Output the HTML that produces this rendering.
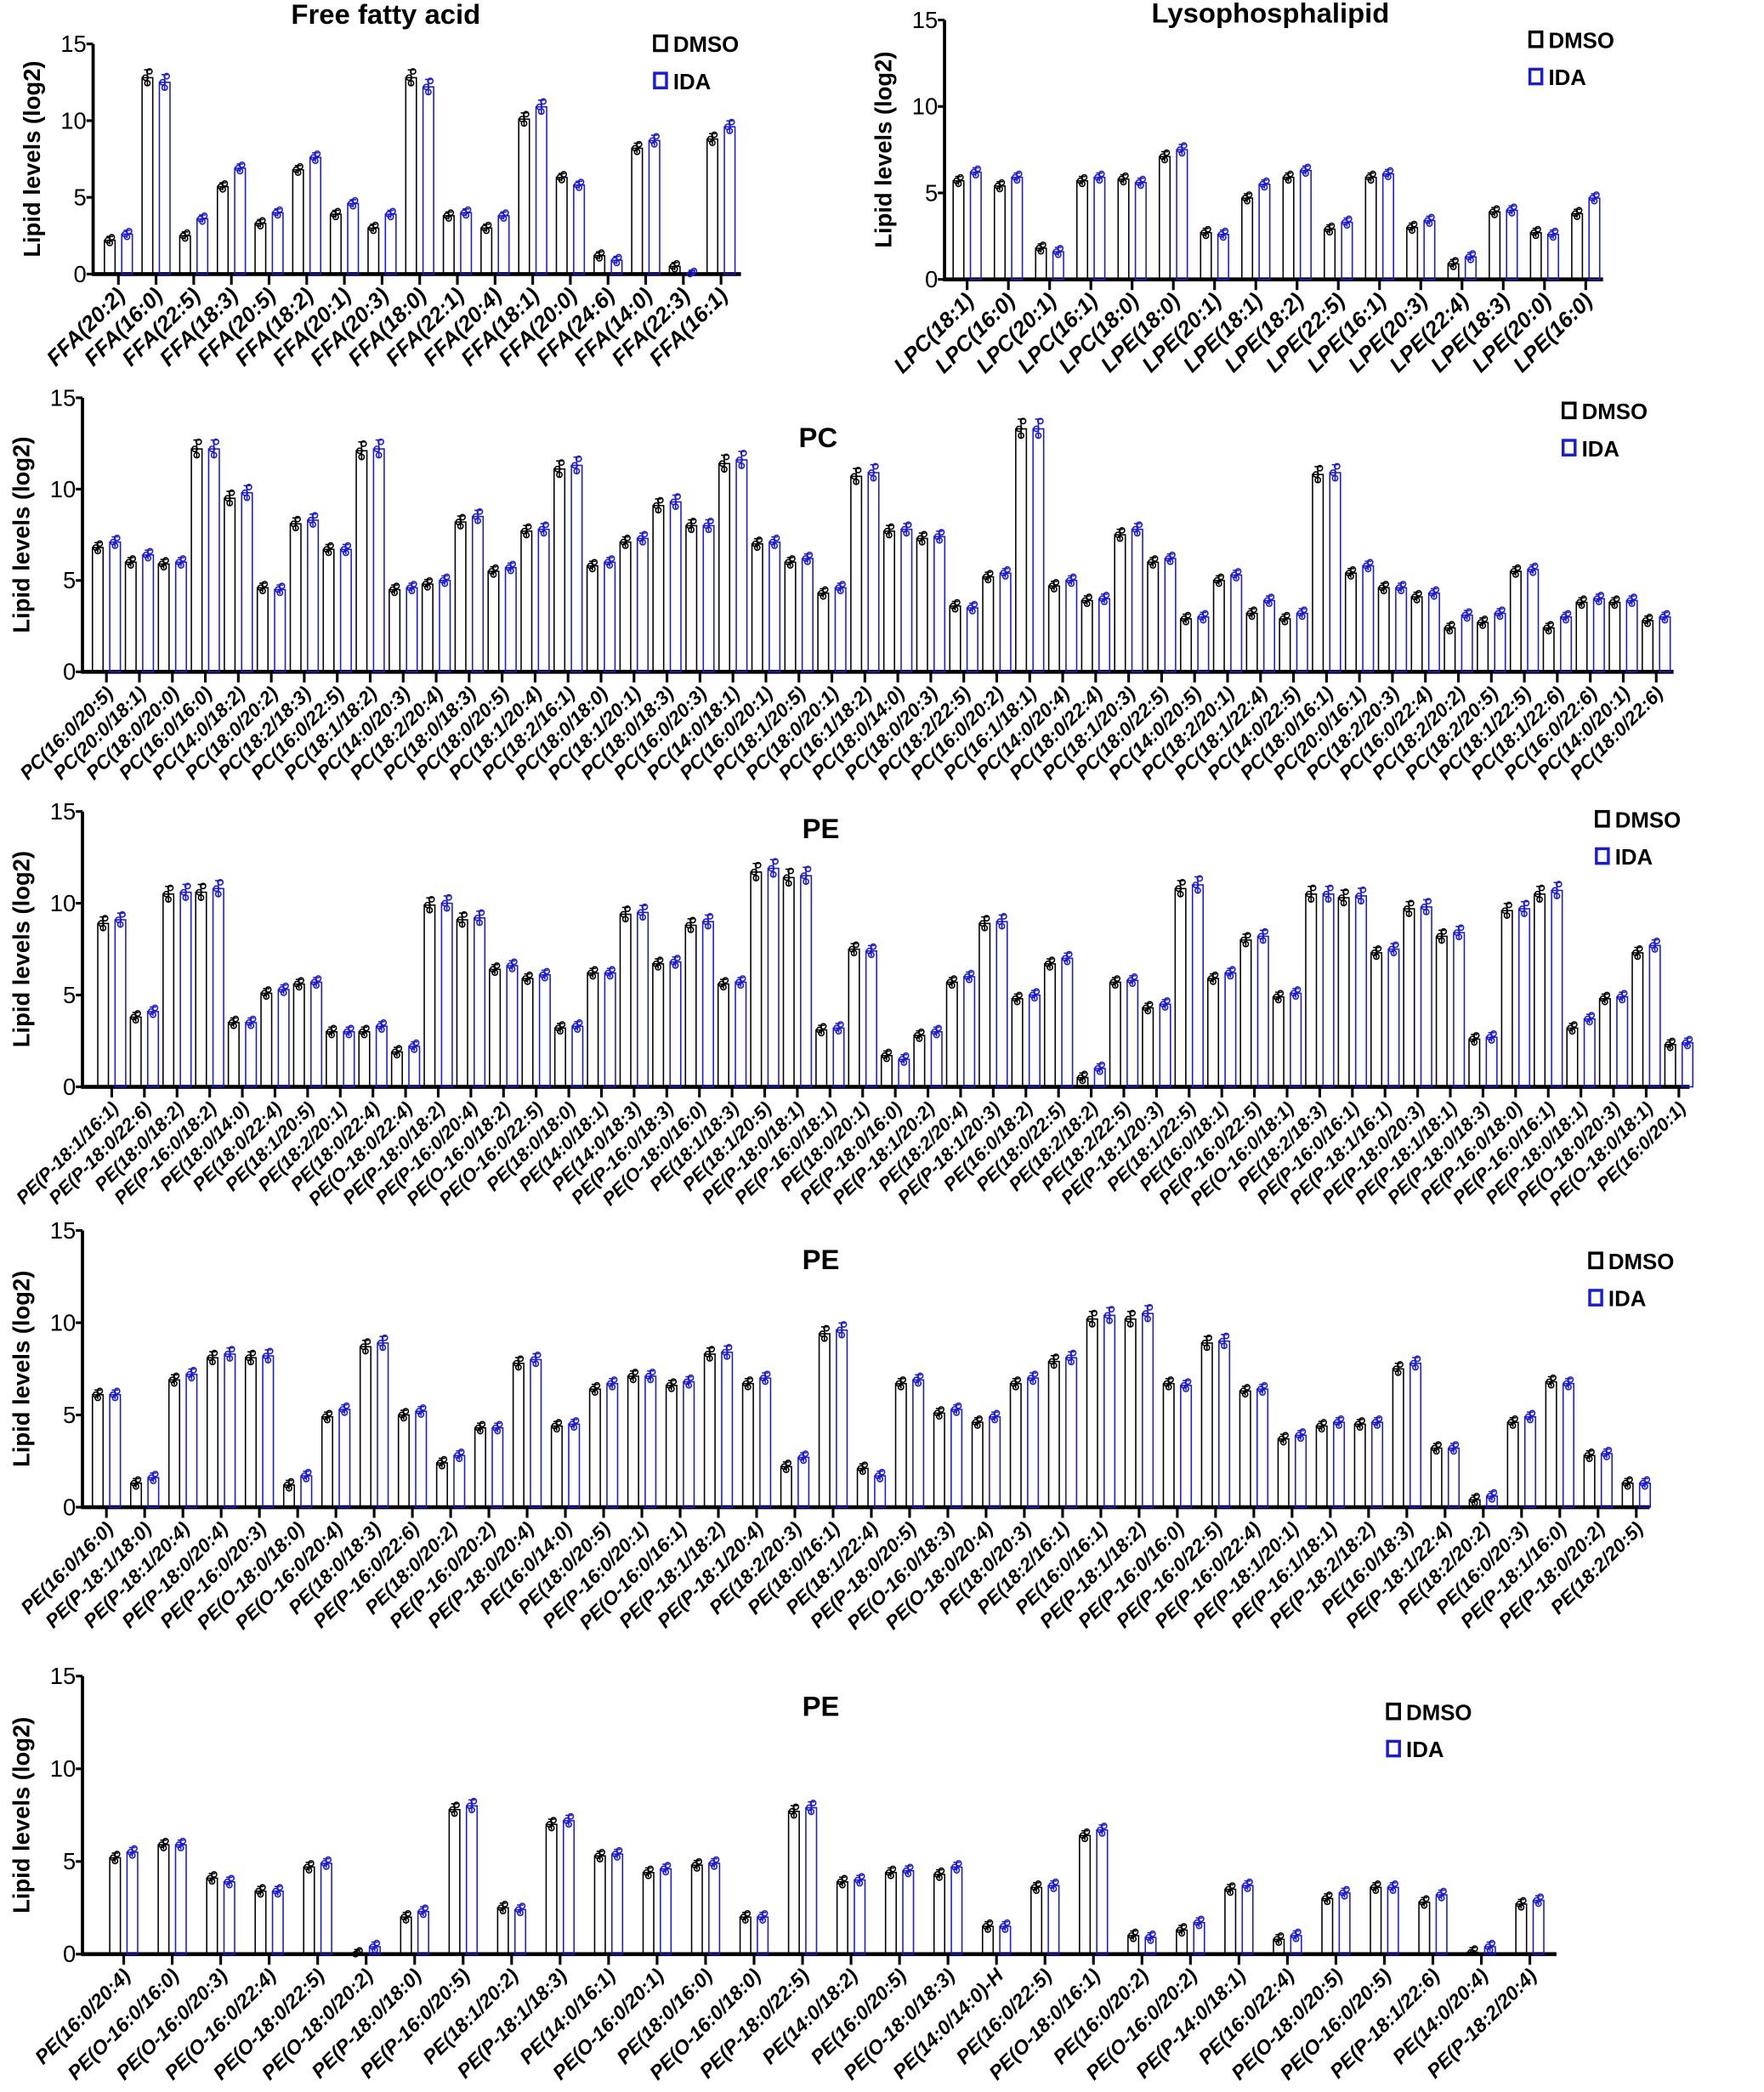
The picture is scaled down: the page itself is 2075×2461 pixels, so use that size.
<!DOCTYPE html>
<html><head><meta charset="utf-8"><style>
html,body{margin:0;padding:0;background:#fff}
svg{display:block}
text{font-family:"Liberation Sans",Arial,sans-serif}
</style></head><body>
<svg id="s" xmlns="http://www.w3.org/2000/svg" width="2075" height="2461" viewBox="0 0 1326 1572.6"></svg>
<script>
const S=document.getElementById('s');let h='';
function panel(o){
 const {ax,y15,y0,xend,x1,x2,title,tx,ty,lx,ly,names,vals}=o;
 const sc=(y0-y15)/15, Y=v=>y0-v*sc;
 h+=`<text x="${tx}" y="${ty}" font-size="${o.tfs||21}" font-weight="bold" text-anchor="middle">${title}</text>`;
 const yc=(y15+y0)/2;
 h+=`<text transform="translate(${ax-40},${yc}) rotate(-90)" font-size="17.5" font-weight="bold" text-anchor="middle">Lipid levels (log2)</text>`;
 h+=`<line x1="${ax}" y1="${y15}" x2="${ax}" y2="${y0+1}" stroke="#000" stroke-width="2.4"/>`;
 h+=`<line x1="${ax-1}" y1="${y0}" x2="${xend}" y2="${y0}" stroke="#000" stroke-width="3"/>`;
 [0,5,10,15].forEach(v=>{const y=Y(v);h+=`<line x1="${ax-5}" y1="${y}" x2="${ax}" y2="${y}" stroke="#000" stroke-width="2"/><text x="${ax-5}" y="${y+6}" font-size="17.5" text-anchor="end">${v}</text>`;});
 const n=vals.length, sp=(x2-x1)/(n-1);
 vals.forEach((p,i)=>{const c=x1+i*sp;
  h+=`<line x1="${c}" y1="${y0}" x2="${c}" y2="${y0+8}" stroke="#000" stroke-width="2"/>`;
  [[p[0],'#000',c-6.5],[p[1],'#1a1adc',c+6.5]].forEach(([v,col,bx])=>{
   const y=Y(v);h+=`<rect x="${bx-4}" y="${y}" width="8" height="${y0-y}" fill="none" stroke="${col}" stroke-width="1"/>`;
   const e=Math.max(0.25,v*0.04)*sc;
   h+=`<line x1="${bx}" y1="${y-e}" x2="${bx}" y2="${Math.min(y0,y+e)}" stroke="${col}" stroke-width="1"/><line x1="${bx-2.5}" y1="${y-e}" x2="${bx+2.5}" y2="${y-e}" stroke="${col}" stroke-width="1"/>`;
   h+=`<circle cx="${bx-1.5}" cy="${y}" r="2" fill="none" stroke="${col}" stroke-width="1"/><circle cx="${bx+1.5}" cy="${y-e*0.8}" r="2" fill="none" stroke="${col}" stroke-width="1"/><circle cx="${bx}" cy="${Math.min(y0-1,y+e*0.7)}" r="2" fill="none" stroke="${col}" stroke-width="1"/>`;
  });
  if(names[i])h+=`<text transform="translate(${c+6},${y0+17}) rotate(-45)" font-size="${o.fs||14.5}" font-weight="bold" font-style="italic" text-anchor="end">${names[i]}</text>`;
 });
 h+=`<rect x="${lx}" y="${ly-7}" width="9" height="11" fill="none" stroke="#000" stroke-width="2.2"/><text x="${lx+14}" y="${ly+5}" font-size="16.5" font-weight="bold">DMSO</text>`;
 h+=`<rect x="${lx}" y="${ly+21}" width="9" height="11" fill="none" stroke="#1a1adc" stroke-width="2.2"/><text x="${lx+14}" y="${ly+33}" font-size="16.5" font-weight="bold">IDA</text>`;
}
const P=s=>s.split(',').map(x=>x.split('/').map(Number));
const L=s=>s.split('|');
panel({ax:70,y15:33,y0:206,xend:557,x1:89,x2:542,title:'Free fatty acid',tx:290,ty:18,lx:492,ly:34,fs:16.5,
names:L('FFA(20:2)|FFA(16:0)|FFA(22:5)|FFA(18:3)|FFA(20:5)|FFA(18:2)|FFA(20:1)|FFA(20:3)|FFA(18:0)|FFA(22:1)|FFA(20:4)|FFA(18:1)|FFA(20:0)|FFA(24:6)|FFA(14:0)|FFA(22:3)|FFA(16:1)'),
vals:P('2.2/2.6,12.8/12.5,2.5/3.6,5.7/6.9,3.3/4.0,6.8/7.6,3.9/4.6,3.0/3.9,12.8/12.2,3.8/4.0,3.0/3.8,10.1/10.9,6.3/5.8,1.2/0.9,8.2/8.7,0.5/0,8.8/9.6')});
panel({ax:710,y15:15,y0:210,xend:1205,x1:727,x2:1192,title:'Lysophosphalipid',tx:955,ty:17,lx:1150,ly:31,fs:16.5,
names:L('LPC(18:1)|LPC(16:0)|LPC(20:1)|LPC(16:1)|LPC(18:0)|LPE(18:0)|LPE(20:1)|LPE(18:1)|LPE(18:2)|LPE(22:5)|LPE(16:1)|LPE(20:3)|LPE(22:4)|LPE(18:3)|LPE(20:0)|LPE(16:0)'),
vals:P('5.7/6.2,5.4/5.9,1.8/1.6,5.7/5.9,5.8/5.6,7.1/7.5,2.7/2.6,4.7/5.5,5.9/6.3,2.9/3.3,5.9/6.1,3.0/3.4,0.9/1.3,3.9/4.0,2.7/2.6,3.8/4.7')});
panel({ax:62,y15:299,y0:505,xend:1258,x1:80,x2:1245,title:'PC',tx:615,ty:336,lx:1175,ly:310,
names:L('PC(16:0/20:5)|PC(20:0/18:1)|PC(18:0/20:0)|PC(16:0/16:0)|PC(14:0/18:2)|PC(18:0/20:2)|PC(18:2/18:3)|PC(16:0/22:5)|PC(18:1/18:2)|PC(14:0/20:3)|PC(18:2/20:4)|PC(18:0/18:3)|PC(18:0/20:5)|PC(18:1/20:4)|PC(18:2/16:1)|PC(18:0/18:0)|PC(18:1/20:1)|PC(18:0/18:3)|PC(16:0/20:3)|PC(14:0/18:1)|PC(16:0/20:1)|PC(18:1/20:5)|PC(18:0/20:1)|PC(16:1/18:2)|PC(18:0/14:0)|PC(18:0/20:3)|PC(18:2/22:5)|PC(16:0/20:2)|PC(16:1/18:1)|PC(14:0/20:4)|PC(18:0/22:4)|PC(18:1/20:3)|PC(18:0/22:5)|PC(14:0/20:5)|PC(18:2/20:1)|PC(18:1/22:4)|PC(14:0/22:5)|PC(18:0/16:1)|PC(20:0/16:1)|PC(18:2/20:3)|PC(16:0/22:4)|PC(18:2/20:2)|PC(18:2/20:5)|PC(18:1/22:5)|PC(18:1/22:6)|PC(16:0/22:6)|PC(14:0/20:1)|PC(18:0/22:6)'),
vals:P('6.8/7.1,6.0/6.4,5.9/6.0,12.2/12.2,9.5/9.8,4.6/4.5,8.1/8.3,6.7/6.7,12.1/12.2,4.5/4.6,4.8/5.0,8.2/8.5,5.5/5.7,7.7/7.8,11.1/11.3,5.8/6.0,7.1/7.3,9.1/9.3,8.0/8.0,11.4/11.6,7.0/7.1,6.0/6.2,4.3/4.6,10.7/10.9,7.7/7.8,7.3/7.4,3.6/3.5,5.2/5.4,13.3/13.3,4.7/5.0,3.9/4.0,7.5/7.8,6.0/6.2,2.9/3.0,5.0/5.3,3.2/3.9,2.9/3.2,10.8/10.9,5.4/5.8,4.6/4.6,4.1/4.3,2.4/3.1,2.7/3.2,5.5/5.6,2.4/3.0,3.8/4.0,3.8/3.9,2.8/3.0')});
panel({ax:62,y15:610,y0:817,xend:1270,x1:84,x2:1262,title:'PE',tx:617,ty:630,lx:1200,ly:617,fs:14,
names:L('PE(P-18:1/16:1)|PE(P-18:0/22:6)|PE(18:0/18:2)|PE(P-16:0/18:2)|PE(18:0/14:0)|PE(18:0/22:4)|PE(18:1/20:5)|PE(18:2/20:1)|PE(18:0/22:4)|PE(O-18:0/22:4)|PE(P-18:0/18:2)|PE(P-16:0/20:4)|PE(O-16:0/18:2)|PE(O-16:0/22:5)|PE(18:0/18:0)|PE(14:0/18:1)|PE(14:0/18:3)|PE(P-16:0/18:3)|PE(O-18:0/16:0)|PE(18:1/18:3)|PE(18:1/20:5)|PE(P-18:0/18:1)|PE(P-16:0/18:1)|PE(18:0/20:1)|PE(P-18:0/16:0)|PE(P-18:1/20:2)|PE(18:2/20:4)|PE(P-18:1/20:3)|PE(16:0/18:2)|PE(18:0/22:5)|PE(18:2/18:2)|PE(18:2/22:5)|PE(P-18:1/20:3)|PE(18:1/22:5)|PE(16:0/18:1)|PE(P-16:0/22:5)|PE(O-16:0/18:1)|PE(18:2/18:3)|PE(P-16:0/16:1)|PE(P-18:1/16:1)|PE(P-18:0/20:3)|PE(P-18:1/18:1)|PE(P-18:0/18:3)|PE(P-16:0/18:0)|PE(P-16:0/16:1)|PE(P-18:0/18:1)|PE(O-18:0/20:3)|PE(O-18:0/18:1)|PE(16:0/20:1)'),
vals:P('8.9/9.1,3.8/4.1,10.5/10.6,10.6/10.8,3.5/3.5,5.1/5.3,5.6/5.7,3.0/3.0,3.0/3.3,1.9/2.2,9.9/10.0,9.1/9.2,6.4/6.6,5.9/6.1,3.2/3.3,6.2/6.2,9.4/9.5,6.7/6.8,8.8/9.0,5.6/5.7,11.7/11.9,11.4/11.5,3.1/3.2,7.5/7.4,1.7/1.5,2.8/3.0,5.7/6.0,8.9/9.0,4.8/5.0,6.7/7.0,0.5/1.0,5.7/5.8,4.3/4.5,10.8/11.0,5.9/6.2,8.0/8.2,4.9/5.1,10.5/10.5,10.3/10.4,7.3/7.5,9.7/9.8,8.2/8.4,2.6/2.7,9.6/9.7,10.5/10.7,3.2/3.7,4.8/4.9,7.3/7.7,2.3/2.4')});
panel({ax:62,y15:925,y0:1133,xend:1240,x1:80,x2:1230,title:'PE',tx:617,ty:954,lx:1195,ly:949,
names:L('PE(16:0/16:0)|PE(P-18:1/18:0)|PE(P-18:1/20:4)|PE(P-18:0/20:4)|PE(P-16:0/20:3)|PE(O-18:0/18:0)|PE(O-16:0/20:4)|PE(18:0/18:3)|PE(P-16:0/22:6)|PE(18:0/20:2)|PE(P-16:0/20:2)|PE(P-18:0/20:4)|PE(16:0/14:0)|PE(18:0/20:5)|PE(P-16:0/20:1)|PE(O-16:0/16:1)|PE(P-18:1/18:2)|PE(P-18:1/20:4)|PE(18:2/20:3)|PE(18:0/16:1)|PE(18:1/22:4)|PE(P-18:0/20:5)|PE(O-16:0/18:3)|PE(O-18:0/20:4)|PE(18:0/20:3)|PE(18:2/16:1)|PE(16:0/16:1)|PE(P-18:1/18:2)|PE(P-16:0/16:0)|PE(P-16:0/22:5)|PE(P-16:0/22:4)|PE(P-18:1/20:1)|PE(P-16:1/18:1)|PE(P-18:2/18:2)|PE(16:0/18:3)|PE(P-18:1/22:4)|PE(18:2/20:2)|PE(16:0/20:3)|PE(P-18:1/16:0)|PE(P-18:0/20:2)|PE(18:2/20:5)'),
vals:P('6.1/6.1,1.3/1.6,6.9/7.2,8.1/8.3,8.1/8.2,1.2/1.7,4.9/5.3,8.7/8.9,5.0/5.2,2.4/2.8,4.3/4.3,7.8/8.0,4.4/4.5,6.4/6.7,7.1/7.1,6.6/6.8,8.3/8.4,6.7/7.0,2.2/2.7,9.4/9.6,2.1/1.7,6.7/6.9,5.1/5.3,4.6/4.9,6.7/7.0,7.9/8.1,10.2/10.4,10.2/10.5,6.7/6.6,8.9/9.0,6.3/6.4,3.7/3.9,4.4/4.6,4.5/4.6,7.5/7.8,3.2/3.2,0.4/0.6,4.6/4.9,6.8/6.7,2.8/2.9,1.3/1.3')});
panel({ax:62,y15:1260,y0:1469,xend:1170,x1:93,x2:1150,title:'PE',tx:617,ty:1290,lx:1043,ly:1288,fs:15,
names:L('PE(16:0/20:4)|PE(O-16:0/16:0)|PE(O-16:0/20:3)|PE(O-16:0/22:4)|PE(O-18:0/22:5)|PE(O-18:0/20:2)|PE(P-18:0/18:0)|PE(P-16:0/20:5)|PE(18:1/20:2)|PE(P-18:1/18:3)|PE(14:0/16:1)|PE(O-16:0/20:1)|PE(18:0/16:0)|PE(O-16:0/18:0)|PE(P-18:0/22:5)|PE(14:0/18:2)|PE(16:0/20:5)|PE(O-18:0/18:3)|PE(14:0/14:0)-H|PE(16:0/22:5)|PE(O-18:0/16:1)|PE(16:0/20:2)|PE(O-16:0/20:2)|PE(P-14:0/18:1)|PE(16:0/22:4)|PE(O-18:0/20:5)|PE(O-16:0/20:5)|PE(P-18:1/22:6)|PE(14:0/20:4)|PE(P-18:2/20:4)'),
vals:P('5.2/5.5,5.9/5.9,4.1/3.9,3.4/3.4,4.7/4.9,0/0.4,2.0/2.3,7.8/8.0,2.5/2.4,7.0/7.2,5.3/5.4,4.4/4.6,4.8/4.9,2.0/2.0,7.7/7.9,3.9/4.0,4.4/4.5,4.3/4.7,1.5/1.5,3.6/3.7,6.4/6.7,1.0/0.9,1.3/1.7,3.5/3.7,0.8/1.0,3.0/3.3,3.6/3.6,2.8/3.2,0.1/0.4,2.7/2.9')});
S.innerHTML=h;
</script>
</body></html>
